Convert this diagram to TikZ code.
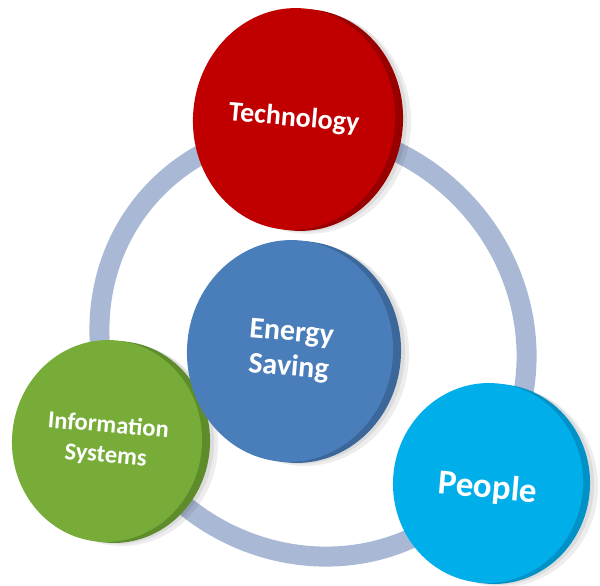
\documentclass[tikz,border=0pt]{standalone}
\usepackage{fontspec}
\setmainfont{Carlito}
\usetikzlibrary{shapes.geometric}
\definecolor{ringcol}{HTML}{A9B9D5}
\definecolor{techface}{HTML}{C00000}
\definecolor{techside}{HTML}{980000}
\definecolor{energyface}{HTML}{4A7EBB}
\definecolor{energyside}{HTML}{3C679B}
\definecolor{infoface}{HTML}{77AC39}
\definecolor{infoside}{HTML}{5E8C2B}
\definecolor{peopleface}{HTML}{00AEEA}
\definecolor{peopleside}{HTML}{0092C6}
\begin{document}
\begin{tikzpicture}[x=1pt,y=-1pt,
  disc/.style={ellipse, inner sep=0pt, rotate=-5},
  face/.style={disc, text=white, align=center},
  softshadow/.style={disc, fill=black, opacity=0.07},
  techsize/.style={minimum width=202pt, minimum height=222pt},
  energysize/.style={minimum width=206pt, minimum height=222pt},
  infosize/.style={minimum width=190pt, minimum height=202pt},
  peoplesize/.style={minimum width=190pt, minimum height=200pt}]
\useasboundingbox (0,0) rectangle (600,586);
\coordinate (ringc) at (313,343);
\draw[ringcol, line width=20pt] (ringc) ellipse [x radius=220, y radius=207, rotate=-45];
% Technology
\node[softshadow, techsize] (techsh1) at (310,123) {};
\node[softshadow, techsize] (techsh2) at (306,121) {};
\node[disc, techsize, fill=techside] (techside) at (302,120) {};
\node[face, techsize, fill=techface, font=\bfseries\fontsize{28}{32}\selectfont] (tech) at (294,119) {Technology};
% Information Systems
\node[softshadow, infosize] (infosh1) at (123,445) {};
\node[softshadow, infosize] (infosh2) at (119,443) {};
\node[disc, infosize, fill=infoside] (infoside) at (115,442) {};
\node[face, infosize, fill=infoface, font=\bfseries\fontsize{24.5}{30}\selectfont] (info) at (107,441) {Information\\Systems};
% People
\node[softshadow, peoplesize] (peoplesh1) at (503,487) {};
\node[softshadow, peoplesize] (peoplesh2) at (499,485) {};
\node[disc, peoplesize, fill=peopleside] (peopleside) at (495,484) {};
\node[face, peoplesize, fill=peopleface, font=\bfseries\fontsize{35}{40}\selectfont, text depth=0pt] (people) at (488,483) {\raisebox{-6pt}{People}};
% Energy Saving
\node[softshadow, energysize] (energysh1) at (306,355) {};
\node[softshadow, energysize] (energysh2) at (302,353) {};
\node[disc, energysize, fill=energyside] (energyside) at (298,352) {};
\node[face, energysize, fill=energyface, font=\bfseries\fontsize{30}{35}\selectfont] (energy) at (290,351) {Energy\\Saving};
\end{tikzpicture}
\end{document}
